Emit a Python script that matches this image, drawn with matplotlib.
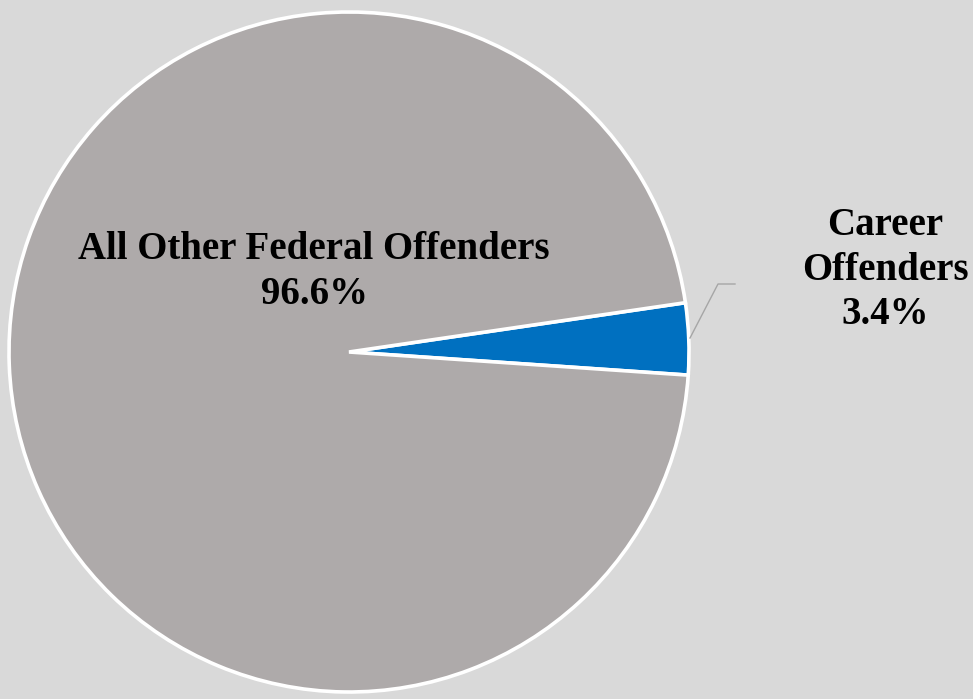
import matplotlib.pyplot as plt

labels = ["Career\nOffenders", "All Other Federal Offenders"]
shares = [3.4, 96.6]
colors = ["#0070C0", "#AEAAAA"]

W, H = 973, 699
fig = plt.figure(figsize=(W / 100, H / 100), dpi=100)
fig.patch.set_facecolor("#D9D9D9")
ax = fig.add_axes([0, 0, 1, 1])

cx, cy, r = 349, H - 352, 340
ax.pie(shares, colors=colors, startangle=-3.9, counterclock=True,
       center=(cx, cy), radius=r, frame=True,
       wedgeprops=dict(edgecolor="white", linewidth=2.6))
ax.set_xlim(0, W)
ax.set_ylim(0, H)
ax.set_aspect("equal")
ax.axis("off")

font = dict(family="Liberation Serif", fontweight="bold", fontsize=28, color="black",
            ha="center", va="center", linespacing=1.28)
ax.text(314, H - 272, f"{labels[1]}\n{shares[1]}%", **font)
ax.text(885, H - 270, f"{labels[0]}\n{shares[0]}%", **font)

# leader line for the small slice
ax.plot([690, 718, 735], [H - 338, H - 284, H - 284], color="#A6A6A6", lw=1)

fig.savefig("out.png", dpi=100, facecolor=fig.get_facecolor())
